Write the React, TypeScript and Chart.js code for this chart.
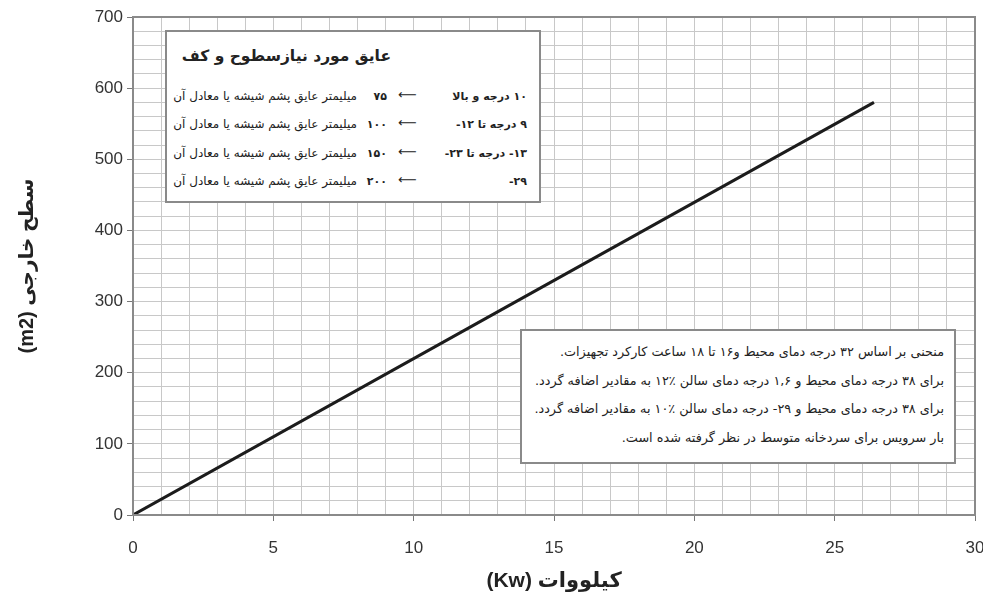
import React, { useEffect, useRef } from "react";
import { Chart, registerables } from "chart.js";

Chart.register(...registerables);

// ---- data ----
const kwValues = [0, 13.1, 26.4];
const areaValues = [0, 288, 580];

const xMajorTicks = [0, 5, 10, 15, 20, 25, 30];
const yMajorTicks = [0, 100, 200, 300, 400, 500, 600, 700];

const xTitle = "(Kw) کیلووات";
const yTitle = "(m2) سطح خارجی";

const legendTitle = "عایق مورد نیازسطوح و کف";
const legendRanges = ["۱۰ درجه و بالا", "۹ درجه تا ۱۲-", "۱۳- درجه تا ۲۳-", "۲۹-"];
const legendThickness = ["۷۵", "۱۰۰", "۱۵۰", "۲۰۰"];
const legendMaterial = "میلیمتر عایق پشم شیشه یا معادل آن";

const noteLines = [
  "منحنی بر اساس ۳۲ درجه دمای محیط و۱۶ تا ۱۸ ساعت کارکرد تجهیزات.",
  "برای ۳۸ درجه دمای محیط و ۱,۶ درجه دمای سالن ٪۱۲ به مقادیر اضافه گردد.",
  "برای ۳۸ درجه دمای محیط و ۲۹- درجه دمای سالن ٪۱۰ به مقادیر اضافه گردد.",
  "بار سرویس برای سردخانه متوسط در نظر گرفته شده است.",
];

const W = 983;
const H = 599;
const FA = "'DejaVu Sans', sans-serif";

const framePlugin = {
  id: "frame",
  afterDatasetsDraw(chart: any) {
    const { ctx, chartArea } = chart;
    ctx.save();
    ctx.strokeStyle = "#8a8a8a";
    ctx.lineWidth = 2;
    ctx.strokeRect(chartArea.left, chartArea.top, chartArea.right - chartArea.left, chartArea.bottom - chartArea.top);
    ctx.restore();
  },
};

export default function App() {
  const ref = useRef<HTMLCanvasElement>(null);
  useEffect(() => {
    if (!ref.current) return;
    const chart = new Chart(ref.current, {
      type: "line",
      data: {
        datasets: [
          {
            data: kwValues.map((x, i) => ({ x, y: areaValues[i] })),
            borderColor: "#1c1c1c",
            borderWidth: 3,
            pointRadius: 0,
            tension: 0,
          },
        ],
      },
      options: {
        responsive: false,
        animation: false,
        layout: { padding: { top: 17, right: 8, left: 0, bottom: 0 } },
        plugins: { legend: { display: false }, tooltip: { enabled: false }, title: { display: false } },
        scales: {
          x: {
            type: "linear",
            min: 0,
            max: 30,
            afterFit: (s: any) => {
              s.height = 84;
              s.paddingLeft = 0;
              s.paddingRight = 0;
            },
            ticks: {
              stepSize: 1,
              autoSkip: false,
              maxRotation: 0,
              padding: 17,
              color: "#333",
              font: { family: "'Liberation Sans', Arial, sans-serif", size: 17 },
              callback: (v: any) => (xMajorTicks.includes(Number(v)) ? String(v) : ""),
            },
            grid: {
              color: "#c8c8c8",
              lineWidth: 1,
              tickLength: 6,
              tickColor: (c: any) => (c.tick && xMajorTicks.includes(c.tick.value) ? "#777" : "rgba(0,0,0,0)"),
            },
            border: { color: "#8a8a8a", width: 2 },
            title: {
              display: true,
              text: xTitle,
              color: "#222",
              font: { family: "'Liberation Sans', 'DejaVu Sans', sans-serif", size: 21, weight: "bold" },
              padding: { top: 0, bottom: 5 },
            },
          },
          y: {
            type: "linear",
            min: 0,
            max: 700,
            afterFit: (s: any) => {
              s.width = 133;
              s.paddingTop = 0;
              s.paddingBottom = 0;
            },
            ticks: {
              stepSize: 20,
              autoSkip: false,
              maxTicksLimit: 100,
              padding: 4,
              color: "#333",
              font: { family: "'Liberation Sans', Arial, sans-serif", size: 17 },
              callback: (v: any) => (yMajorTicks.includes(Number(v)) ? String(v) : ""),
            },
            grid: {
              color: "#c8c8c8",
              lineWidth: 1,
              tickLength: 6,
              tickColor: (c: any) => (c.tick && yMajorTicks.includes(c.tick.value) ? "#777" : "rgba(0,0,0,0)"),
            },
            border: { color: "#8a8a8a", width: 2 },
            title: {
              display: true,
              text: yTitle,
              color: "#222",
              font: { family: "'Liberation Sans', 'DejaVu Sans', sans-serif", size: 20, weight: "bold" },
              padding: { top: 15, bottom: 0 },
            },
          },
        },
      } as any,
      plugins: [framePlugin],
    });
    return () => chart.destroy();
  }, []);

  return (
    <div style={{ position: "absolute", left: 0, top: 0, width: W, height: H, background: "#fff", overflow: "hidden" }}>
      <canvas ref={ref} width={W} height={H} style={{ position: "absolute", left: 0, top: 0, width: W, height: H }} />
      {/* legend box */}
      <div
        style={{
          position: "absolute",
          left: 165,
          top: 30,
          width: 372,
          height: 169,
          border: "2px solid #8a8a8a",
          background: "#fff",
          fontFamily: FA,
          color: "#222",
        }}
      >
        <div dir="rtl" style={{ position: "absolute", right: 148, top: 15, fontSize: 15.5, fontWeight: "bold", whiteSpace: "nowrap" }}>
          {legendTitle}
        </div>
        {legendRanges.map((r, i) => (
          <React.Fragment key={i}>
            <div dir="rtl" style={{ position: "absolute", right: 12, top: 58 + i * 28.3, fontSize: 11, fontWeight: "bold", whiteSpace: "nowrap" }}>
              {r}
            </div>
            <div style={{ position: "absolute", left: 231, top: 55 + i * 28.3, fontSize: 13, whiteSpace: "nowrap" }}>⟵</div>
            <div dir="rtl" style={{ position: "absolute", right: 152, top: 58 + i * 28.3, fontSize: 11, fontWeight: "bold", whiteSpace: "nowrap" }}>
              {legendThickness[i]}
            </div>
            <div dir="rtl" style={{ position: "absolute", right: 182, top: 57 + i * 28.3, fontSize: 12, whiteSpace: "nowrap" }}>
              {legendMaterial}
            </div>
          </React.Fragment>
        ))}
      </div>
      {/* note box */}
      <div
        style={{
          position: "absolute",
          left: 520,
          top: 329,
          width: 432,
          height: 131,
          border: "2px solid #8a8a8a",
          background: "#fff",
          fontFamily: FA,
          color: "#222",
        }}
      >
        {noteLines.map((t, i) => (
          <div key={i} dir="rtl" style={{ position: "absolute", right: 10, top: 13 + i * 28.5, fontSize: 12.8, whiteSpace: "nowrap" }}>
            {t}
          </div>
        ))}
      </div>
    </div>
  );
}
